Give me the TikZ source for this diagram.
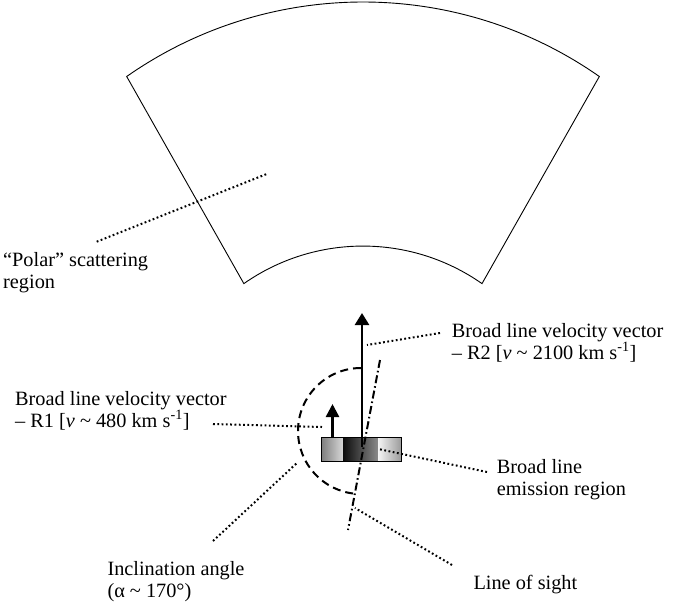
\documentclass[tikz,border=0pt]{standalone}
\usepackage{fontspec}
\setmainfont{Liberation Serif}
\usetikzlibrary{arrows.meta}

\begin{document}
\begin{tikzpicture}[
    x=1pt, y=-1pt,
    >={Triangle[width=14pt, length=12pt]},
    lbl/.style={anchor=base west, align=left, inner sep=0pt, font=\fontsize{20.3}{22}\selectfont},
    leader/.style={line width=2pt, dash pattern=on 1.8pt off 2.5pt},
    vec/.style={->, line width=2.5pt},
    smallvec/.style={-{Triangle[width=13pt, length=13pt]}, line width=2.5pt},
    wedge/.style={line width=0.9pt},
    incl/.style={line width=2pt, dash pattern=on 8pt off 5pt},
    sight/.style={line width=2pt, dash pattern=on 8pt off 3pt on 1.6pt off 3pt},
    seg/.style={rectangle, minimum height=24pt, inner sep=0pt, outer sep=0pt},
]
\useasboundingbox (0,0) rectangle (683,611);

% Polar scattering wedge
\draw[wedge] (126.7,76.5) arc[start angle=235, end angle=305, radius=412]
    -- (482,283.6) arc[start angle=305, end angle=235, radius=207.6] -- cycle;

% Broad line emission region
\node[seg, minimum width=21.6pt, left color=black!50, right color=black!15] (segL) at (332.5,449) {};
\node[seg, minimum width=35.2pt, left color=black!95, right color=black!45] (segM) at (360.9,449) {};
\node[seg, minimum width=23.2pt, left color=black!5, right color=black!40] (segR) at (390.1,449) {};
\draw[line width=0.8pt] (segL.north west) rectangle (segR.south east);

% Velocity vectors
\coordinate (core) at (362,447);
\coordinate (r2tip) at (362,313);
\coordinate (r1tip) at (332.5,404);
\draw[vec] (core) -- (r2tip);
\draw[smallvec] (segL.north) -- (r1tip);

% Inclination angle and line of sight
\coordinate (inclTop) at (361,368);
\draw[incl] (inclTop) arc[start angle=270, end angle=95, radius=63];
\coordinate (losA) at (380,360);
\coordinate (losB) at (348,530);
\draw[sight] (losA) -- (losB);

% Labels (base = last line)
\node[lbl] (polar) at (3,288.5) {“Polar” scattering\\region};
\node[lbl] (r1) at (15,427) {Broad line velocity vector\\– R1 [\textit{v} \textasciitilde{} 480 km s\textsuperscript{-1}]};
\node[lbl] (r2) at (451.7,359.5) {Broad line velocity vector\\– R2 [\textit{v} \textasciitilde{} 2100 km s\textsuperscript{-1}]};
\node[lbl] (blr) at (496.7,495) {Broad line\\emission region};
\node[lbl] (incang) at (107.3,597) {Inclination angle\\(α \textasciitilde{} 170°)};
\node[lbl] (los) at (473.3,589) {Line of sight};

% Leaders
\coordinate (polarA) at (96.7,241.7);
\coordinate (polarB) at (266.7,174);
\coordinate (r1A) at (213,424);
\coordinate (r1B) at (322,427);
\coordinate (r2A) at (440,333);
\coordinate (r2B) at (367,345);
\coordinate (blrA) at (487,472);
\coordinate (inclA) at (213,541);
\coordinate (inclB) at (298,462);
\coordinate (losC) at (452,565);
\coordinate (losD) at (355,508);
\draw[leader] (polarA) -- (polarB);
\draw[leader] (r1A) -- (r1B);
\draw[leader] (r2A) -- (r2B);
\draw[leader] (blrA) -- (segR.west);
\draw[leader] (inclA) -- (inclB);
\draw[leader] (losC) -- (losD);

\end{tikzpicture}
\end{document}
